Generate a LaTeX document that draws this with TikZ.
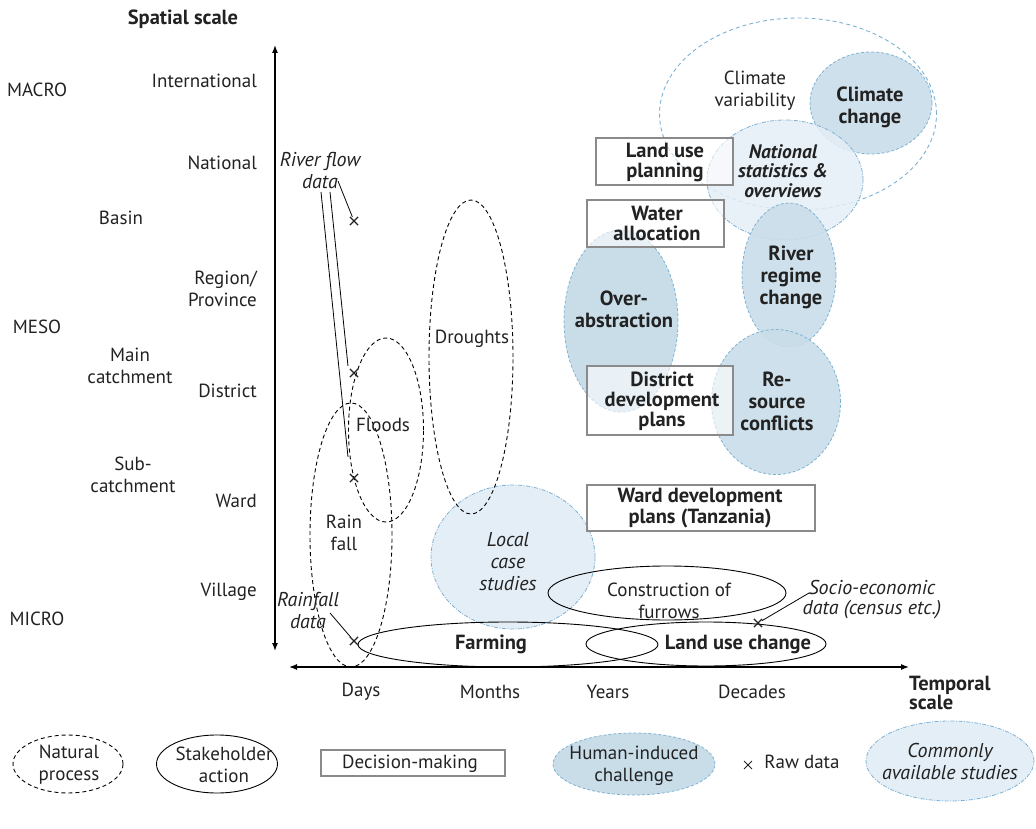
\documentclass[tikz,border=0pt]{standalone}
\usepackage{fontspec}
\setmainfont{PT Sans}
\usetikzlibrary{shapes.geometric,shapes.misc,arrows.meta}
\definecolor{midblue}{HTML}{C9DDE9}
\definecolor{lightblue}{HTML}{E4EEF6}
\definecolor{bborder}{HTML}{7EB2D3}
\definecolor{txt}{HTML}{222222}
\definecolor{boxgray}{HTML}{8A8A8A}
\begin{document}
\begin{tikzpicture}[x=1pt,y=-1pt,
  txtn/.style={font=\fontsize{19}{22}\selectfont, align=center, inner sep=0pt, text=txt},
  bld/.style={font=\fontsize{20.5}{22}\selectfont\bfseries, align=center, inner sep=0pt, text=txt},
  itl/.style={font=\fontsize{20}{22}\selectfont\itshape, align=center, inner sep=0pt, text=txt},
  bit/.style={font=\fontsize{19.5}{19.5}\selectfont\bfseries\itshape, align=center, inner sep=0pt, text=txt},
  leg/.style={font=\fontsize{19}{22}\selectfont, align=center, inner sep=0pt, text=txt},
  esize/.style 2 args={ellipse, minimum width=#1, minimum height=#2, inner sep=0pt},
  natural/.style={draw=black, dash pattern=on 4pt off 3pt, line width=0.9pt},
  stakeh/.style={draw=black, line width=0.9pt},
  decis/.style={rectangle, draw=boxgray, line width=1.3pt, fill=white, fill opacity=0.6, inner sep=0pt},
  human/.style={fill=midblue, draw=bborder, dash pattern=on 3pt off 2pt, line width=0.8pt},
  study/.style={fill=lightblue, draw=bborder, dash pattern=on 4pt off 1.5pt on 1pt off 1.5pt, line width=0.8pt},
  climv/.style={draw=bborder, dash pattern=on 4pt off 3pt, line width=0.9pt},
  xm/.style={cross out, draw=txt, line width=1.2pt, minimum size=7pt, inner sep=0pt},
  axis/.style={line width=1.3pt, black, {Latex[length=8pt,width=6pt]}-{Latex[length=8pt,width=6pt]}},
  thin/.style={line width=0.8pt, black}
]
\useasboundingbox (0,0) rectangle (1036,829);

% ---------- axes ----------
\coordinate (vtop) at (275,45);
\coordinate (vbot) at (275,651);
\coordinate (hleft) at (289,667);
\coordinate (hright) at (909,667);
\draw[axis] (vbot) -- (vtop);
\draw[axis] (hleft) -- (hright);

\node[bld] (spatial) at (183,19) {Spatial scale};
\node[bld, align=left, anchor=west, font=\fontsize{20.5}{19}\selectfont\bfseries] (temporal) at (909,693) {Temporal\\scale};

\node[txtn] (macro) at (37,90) {MACRO};
\node[txtn] (meso) at (37,327) {MESO};
\node[txtn] (micro) at (37,619) {MICRO};
\node[txtn] (basin) at (121,218) {Basin};
\node[txtn] (mainc) at (130,366) {Main\\catchment};
\node[txtn] (subc) at (133,475) {Sub-\\catchment};
\node[txtn, anchor=east] (intl) at (257,81) {International};
\node[txtn, anchor=east] (natl) at (257,163) {National};
\node[txtn, anchor=east, align=right] (region) at (257,289) {Region/\\Province};
\node[txtn, anchor=east] (distr) at (257,391) {District};
\node[txtn, anchor=east] (ward) at (257,501) {Ward};
\node[txtn, anchor=east] (village) at (257,592) {Village};

\node[txtn] (days) at (361,692) {Days};
\node[txtn] (months) at (490,692) {Months};
\node[txtn] (years) at (608,692) {Years};
\node[txtn] (decades) at (752,692) {Decades};

% ---------- blue challenge / studies ellipses ----------
\node[esize={277pt}{192pt}, climv] (climvar) at (798,114) {};
\node[esize={122pt}{102pt}, human, fill opacity=0.9] (climch) at (871,103) {};
\node[esize={156pt}{120pt}, study, fill opacity=0.85] (natstat) at (785,180) {};
\node[esize={94pt}{144pt}, human, fill opacity=0.9] (riverreg) at (789,275) {};
\node[esize={129pt}{145pt}, human, fill opacity=0.9] (rescon) at (776,402) {};
\node[esize={114pt}{182pt}, human] (overab) at (621,321) {};
\node[esize={164pt}{144pt}, study] (localcs) at (513,557) {};

% ---------- decision boxes ----------
\node[decis, minimum width=137pt, minimum height=47pt] (lup) at (664.5,161.5) {};
\node[decis, minimum width=137pt, minimum height=47pt] (wal) at (655.5,223.5) {};
\node[decis, minimum width=146pt, minimum height=69pt] (ddp) at (660,400.5) {};
\node[decis, minimum width=228pt, minimum height=46pt] (wdp) at (701,508) {};

% ---------- natural processes ----------
\node[esize={84pt}{314pt}, natural] (drought) at (471,357) {};
\node[esize={75pt}{184pt}, natural] (floods) at (386,430) {};
\node[esize={82pt}{264pt}, natural] (rainf) at (351,535) {};

% ---------- stakeholder actions ----------
\node[esize={238pt}{54pt}, stakeh] (furrows) at (667,593) {};
\node[esize={300pt}{45pt}, stakeh] (farming) at (508,644.5) {};
\node[esize={240pt}{44pt}, stakeh] (luc) at (706,644) {};

% ---------- texts ----------
\node[txtn] (tclimvar) at (755,91) {Climate\\variability};
\node[bld] (tclimch) at (870,107) {Climate\\change};
\node[bit] (tnatstat) at (783,171) {National\\statistics \&\\overviews};
\node[bld] (triverreg) at (791,277) {River\\regime\\change};
\node[bld] (trescon) at (777,401) {Re-\\source\\conflicts};
\node[bld] (toverab) at (624,309) {Over-\\abstraction};
\node[bld, font=\fontsize{20.5}{20}\selectfont\bfseries] (tlup) at (665,162) {Land use\\planning};
\node[bld, font=\fontsize{20.5}{20}\selectfont\bfseries] (twal) at (657,223.5) {Water\\allocation};
\node[bld, font=\fontsize{20.5}{20}\selectfont\bfseries] (tddp) at (662,401) {District\\development\\plans};
\node[bld, font=\fontsize{20.5}{21}\selectfont\bfseries] (twdp) at (700,508) {Ward development\\plans (Tanzania)};
\node[itl] (tlocal) at (508,562) {Local\\case\\studies};
\node[txtn] (tdrought) at (472,339) {Droughts};
\node[txtn] (tfloods) at (383,425) {Floods};
\node[txtn] (trainf) at (344,533) {Rain\\fall};
\node[txtn] (tfurrows) at (669,601) {Construction of\\furrows};
\node[bld] (tfarming) at (491,644) {Farming};
\node[bld] (tluc) at (738,644) {Land use change};

% ---------- raw data ----------
\node[itl] (rfd) at (320,171) {River flow\\data};
\node[itl] (rnd) at (308,610) {Rainfall\\data};
\node[itl, font=\fontsize{20}{20}\selectfont\itshape] (sed) at (872,600) {Socio-economic\\data (census etc.)};
\node[xm] (x1) at (354,221) {};
\node[xm] (x2) at (354,373) {};
\node[xm] (x3) at (354,478) {};
\node[xm] (x4) at (354,641) {};
\node[xm] (x5) at (758,623) {};
\coordinate (c1) at (338,181);
\coordinate (l1a) at (321,192);
\coordinate (l1b) at (348,457);
\coordinate (l2a) at (330,192);
\coordinate (l2b) at (348,366);
\coordinate (c4) at (330,613);
\coordinate (c5) at (809,593);
\draw[thin] (c1) -- (x1);
\draw[thin] (l1a) -- (l1b);
\draw[thin] (l2a) -- (l2b);
\draw[thin] (c4) -- (x4);
\draw[thin] (c5) -- (x5);

% ---------- legend ----------
\node[esize={110pt}{58pt}, natural] (lgnat) at (68,764) {};
\node[leg] (tlgnat) at (69,765) {Natural\\process};
\node[esize={121pt}{58pt}, stakeh] (lgst) at (217,764) {};
\node[leg] (tlgst) at (224,765) {Stakeholder\\action};
\node[decis, minimum width=184pt, minimum height=26pt] (lgdec) at (413,763) {};
\node[leg] (tlgdec) at (410,764) {Decision-making};
\node[esize={162pt}{62pt}, human] (lghum) at (634,764) {};
\node[leg] (tlghum) at (634,766) {Human-induced\\challenge};
\node[xm, line width=0.9pt, minimum size=7pt] (lgx) at (748,765) {};
\node[leg] (tlgx) at (802,762) {Raw data};
\node[esize={168pt}{80pt}, study] (lgstudy) at (950,761) {};
\node[leg, font=\fontsize{20}{22}\selectfont\itshape] (tlgstudy) at (950,761) {Commonly\\available studies};
\end{tikzpicture}
\end{document}
